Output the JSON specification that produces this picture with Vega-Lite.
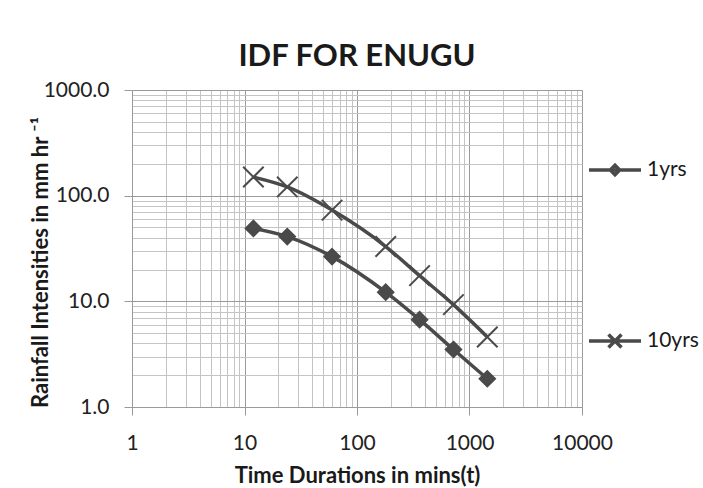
{
  "$schema": "https://vega.github.io/schema/vega-lite/v6.json",
  "width": 450,
  "height": 317,
  "autosize": {"type": "none"},
  "padding": {"left": 132, "top": 90, "right": 121, "bottom": 81},
  "background": "white",
  "title": {"text": "IDF FOR ENUGU", "font": "Lato", "fontSize": 31, "fontWeight": "bold", "color": "#1a1a1a", "offset": 6, "anchor": "middle"},
  "config": {"view": {"stroke": null}, "font": "Lato"},
  "data": {"values": [
    {"series": "1yrs", "t": 12, "i": 49},
    {"series": "1yrs", "t": 24, "i": 41},
    {"series": "1yrs", "t": 60, "i": 26.5},
    {"series": "1yrs", "t": 180, "i": 12.2},
    {"series": "1yrs", "t": 360, "i": 6.7},
    {"series": "1yrs", "t": 720, "i": 3.5},
    {"series": "1yrs", "t": 1440, "i": 1.85},
    {"series": "10yrs", "t": 12, "i": 150},
    {"series": "10yrs", "t": 24, "i": 121},
    {"series": "10yrs", "t": 60, "i": 73},
    {"series": "10yrs", "t": 180, "i": 33},
    {"series": "10yrs", "t": 360, "i": 17.5},
    {"series": "10yrs", "t": 720, "i": 9.3},
    {"series": "10yrs", "t": 1440, "i": 4.6}
  ]},
  "encoding": {
    "x": {
      "field": "t", "type": "quantitative",
      "scale": {"type": "log", "domain": [1, 10000], "nice": false},
      "axis": {
        "title": "Time Durations in mins(t)",
        "values": [1,2,3,4,5,6,7,8,9,10,20,30,40,50,60,70,80,90,100,200,300,400,500,600,700,800,900,1000,2000,3000,4000,5000,6000,7000,8000,9000,10000],
        "labelExpr": "indexof([1,10,100,1000,10000], datum.value) >= 0 ? format(datum.value, 'd') : ''",
        "labelOverlap": false,
        "labelFlush": false,
        "grid": true,
        "gridColor": {"condition": {"test": "indexof([1,10,100,1000,10000], datum.value) >= 0", "value": "#9a9a9a"}, "value": "#c4c4c4"},
        "gridWidth": 1,
        "tickSize": 8,
        "tickColor": "#9a9a9a",
        "tickOpacity": {"condition": {"test": "indexof([1,10,100,1000,10000], datum.value) >= 0", "value": 1}, "value": 0},
        "domainColor": "#9a9a9a",
        "labelFontSize": 21,
        "labelColor": "#222222",
        "labelPadding": 17,
        "titleFontSize": 22,
        "titleFontWeight": "bold",
        "titleColor": "#1a1a1a",
        "titlePadding": 12
      }
    },
    "y": {
      "field": "i", "type": "quantitative",
      "scale": {"type": "log", "domain": [1, 1000], "nice": false},
      "axis": {
        "title": "Rainfall Intensities in mm hr ⁻¹",
        "values": [1,2,3,4,5,6,7,8,9,10,20,30,40,50,60,70,80,90,100,200,300,400,500,600,700,800,900,1000],
        "labelExpr": "indexof([1,10,100,1000], datum.value) >= 0 ? format(datum.value, '.1f') : ''",
        "labelOverlap": false,
        "labelFlush": false,
        "grid": true,
        "gridColor": {"condition": {"test": "indexof([1,10,100,1000], datum.value) >= 0", "value": "#9a9a9a"}, "value": "#c4c4c4"},
        "gridWidth": 1,
        "tickSize": 8,
        "tickColor": "#9a9a9a",
        "tickOpacity": {"condition": {"test": "indexof([1,10,100,1000], datum.value) >= 0", "value": 1}, "value": 0},
        "domainColor": "#9a9a9a",
        "labelFontSize": 21,
        "labelColor": "#222222",
        "labelPadding": 15,
        "titleFontSize": 22,
        "titleFontWeight": "bold",
        "titleColor": "#1a1a1a",
        "titleX": -80,
        "titleY": 172,
        "titleAnchor": "middle"
      }
    }
  },
  "layer": [
    {
      "mark": {"type": "line", "interpolate": "monotone", "color": "#4a4a4a", "strokeWidth": 3.5},
      "encoding": {"detail": {"field": "series"}}
    },
    {
      "mark": {"type": "point", "filled": true, "opacity": 1, "fill": "#4a4a4a", "stroke": "#4a4a4a", "strokeWidth": 2, "size": 420},
      "encoding": {
        "shape": {"field": "series", "type": "nominal",
          "scale": {"domain": ["1yrs", "10yrs"], "range": ["M0,-0.75L0.75,0L0,0.75L-0.75,0Z", "M-1,-1L1,1M1,-1L-1,1"]},
          "legend": null}
      }
    },
    {
      "mark": {"type": "point", "filled": false, "color": "#4a4a4a", "strokeWidth": 3.5, "opacity": 0, "size": 10},
      "encoding": {
        "shape": {"field": "series", "type": "nominal",
          "scale": {"domain": ["1yrs", "10yrs"], "range": ["M-1,0H1M0,-0.18L0.18,0L0,0.18L-0.18,0Z", "M-1,0H1M-0.25,-0.25L0.25,0.25M0.25,-0.25L-0.25,0.25"]},
          "legend": {
            "title": null,
            "orient": "none",
            "legendX": 455,
            "legendY": 52,
            "rowPadding": 131,
            "symbolSize": 2704,
            "symbolStrokeWidth": 3.5,
            "symbolStrokeColor": "#4a4a4a",
            "symbolOpacity": 1,
            "labelFontSize": 21,
            "labelColor": "#1a1a1a",
            "labelOffset": 4
          }}
      }
    }
  ],
  "resolve": {"scale": {"shape": "independent"}}
}
